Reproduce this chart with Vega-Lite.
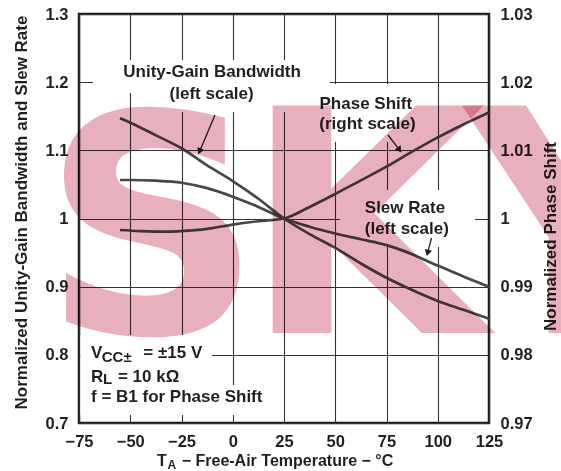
{
  "$schema": "https://vega.github.io/schema/vega-lite/v6.json",
  "width": 410,
  "height": 409,
  "autosize": {"type": "none"},
  "padding": {"left": 79, "top": 14, "right": 72, "bottom": 48},
  "background": "white",
  "config": {
    "view": {"stroke": "#1a1a1a", "strokeWidth": 2.5},
    "font": "Liberation Sans",
    "text": {"font": "Liberation Sans"}
  },
  "datasets": {
    "curves": [
      {"series": "UGB", "t": -55, "v": 1.147},
      {"series": "UGB", "t": -50, "v": 1.1405},
      {"series": "UGB", "t": -37.5, "v": 1.122},
      {"series": "UGB", "t": -25, "v": 1.103},
      {"series": "UGB", "t": -12.5, "v": 1.078},
      {"series": "UGB", "t": 0, "v": 1.055},
      {"series": "UGB", "t": 12.5, "v": 1.029},
      {"series": "UGB", "t": 25, "v": 1.0},
      {"series": "UGB", "t": 37.5, "v": 0.977},
      {"series": "UGB", "t": 50, "v": 0.957},
      {"series": "UGB", "t": 62.5, "v": 0.934},
      {"series": "UGB", "t": 75, "v": 0.913},
      {"series": "UGB", "t": 87.5, "v": 0.895},
      {"series": "UGB", "t": 100, "v": 0.879},
      {"series": "UGB", "t": 112.5, "v": 0.866},
      {"series": "UGB", "t": 125, "v": 0.853},
      {"series": "SR", "t": -55, "v": 1.0565},
      {"series": "SR", "t": -50, "v": 1.0565},
      {"series": "SR", "t": -37.5, "v": 1.0555},
      {"series": "SR", "t": -25, "v": 1.0525},
      {"series": "SR", "t": -12.5, "v": 1.0445},
      {"series": "SR", "t": 0, "v": 1.032},
      {"series": "SR", "t": 12.5, "v": 1.017},
      {"series": "SR", "t": 25, "v": 1.0},
      {"series": "SR", "t": 37.5, "v": 0.988},
      {"series": "SR", "t": 50, "v": 0.978},
      {"series": "SR", "t": 62.5, "v": 0.9695},
      {"series": "SR", "t": 75, "v": 0.961},
      {"series": "SR", "t": 82, "v": 0.954},
      {"series": "SR", "t": 100, "v": 0.931},
      {"series": "SR", "t": 112.5, "v": 0.915},
      {"series": "SR", "t": 125, "v": 0.9}
    ],
    "phase": [
      {"t": -55, "v": 0.99831},
      {"t": -45, "v": 0.99815},
      {"t": -33, "v": 0.99806},
      {"t": -20, "v": 0.99825},
      {"t": -10, "v": 0.9986},
      {"t": 0, "v": 0.9991},
      {"t": 12.5, "v": 0.9996},
      {"t": 25, "v": 1.0},
      {"t": 37.5, "v": 1.0017},
      {"t": 50, "v": 1.0036},
      {"t": 62.5, "v": 1.0056},
      {"t": 75, "v": 1.0076},
      {"t": 87.5, "v": 1.0098},
      {"t": 100, "v": 1.0119},
      {"t": 112.5, "v": 1.0138},
      {"t": 125, "v": 1.01555}
    ],
    "boxes": [
      {"t1": -68.2, "t2": 47.4, "v1": 1.2325, "v2": 1.1841},
      {"t1": -40.4, "t2": 32.8, "v1": 1.1841, "v2": 1.1562},
      {"t1": 40.1, "t2": 92.3, "v1": 1.1973, "v2": 1.1122},
      {"t1": 52.3, "t2": 118.2, "v1": 1.0418, "v2": 0.9802},
      {"t1": 59.6, "t2": 107.0, "v1": 0.9802, "v2": 0.9582},
      {"t1": -74.3, "t2": -10.1, "v1": 0.8291, "v2": 0.7558},
      {"t1": -74.3, "t2": 15.7, "v1": 0.7558, "v2": 0.7117}
    ],
    "notes": [
      {"text": "Unity-Gain Bandwidth", "t": -10.1, "v": 1.2142},
      {"text": "(left scale)", "t": -10.3, "v": 1.1826},
      {"text": "Phase Shift", "t": 64.9, "v": 1.168},
      {"text": "(right scale)", "t": 65.7, "v": 1.1386},
      {"text": "Slew Rate", "t": 84, "v": 1.0161},
      {"text": "(left scale)", "t": 84.9, "v": 0.9846}
    ],
    "conds": [
      {"text": "V", "t": -69.15, "v": 0.7949, "size": 17},
      {"text": "CC±", "t": -63.9, "v": 0.7899, "size": 15},
      {"text": "= ±15 V", "t": -43.6, "v": 0.7949, "size": 17},
      {"text": "R", "t": -69.15, "v": 0.7606, "size": 17},
      {"text": "L", "t": -63.3, "v": 0.7572, "size": 15},
      {"text": "= 10 kΩ", "t": -56.0, "v": 0.7606, "size": 17},
      {"text": "f = B1 for Phase Shift", "t": -69.15, "v": 0.7313, "size": 17},
      {"text": "T", "t": -36.95, "v": 0.6365, "size": 16},
      {"text": "A", "t": -31.8, "v": 0.6325, "size": 12},
      {"text": "− Free-Air Temperature − °C", "t": -24.9, "v": 0.6365, "size": 16}
    ],
    "arrows": [
      {"t1": -8.66, "v1": 1.1518, "t2": -15.98, "v2": 1.0999, "angle": 203},
      {"t1": 75.73, "v1": 1.1225, "t2": 81.05, "v2": 1.1018, "angle": 142},
      {"t1": 96.95, "v1": 0.9714, "t2": 95.2, "v2": 0.951, "angle": 194}
    ],
    "wm": [
      {"ch": "S", "t": -93, "v": 0.832, "size": 305},
      {"ch": "K", "t": 5.5, "v": 0.832, "size": 312},
      {"ch": "Y", "t": 113.3, "v": 0.832, "size": 312}
    ]
  },
  "layer": [
    {
      "data": {"name": "boxes"},
      "mark": {"type": "rect", "fill": "white"},
      "encoding": {
        "x": {
          "field": "t1", "type": "quantitative",
          "scale": {"domain": [-75, 125], "nice": false, "zero": false},
          "axis": {
            "values": [-75, -50, -25, 0, 25, 50, 75, 100, 125],
            "format": "d",
            "title": null,
            "grid": true,
            "gridColor": "#333333",
            "gridWidth": 1.1,
            "domain": false,
            "ticks": false,
            "tickSize": 0,
            "labelPadding": 10,
            "labelFlush": false,
            "labelOverlap": false,
            "labelFont": "Liberation Sans",
            "labelFontSize": 16.5,
            "labelFontWeight": "bold",
            "labelColor": "#231f20"
          }
        },
        "x2": {"field": "t2"},
        "y": {
          "field": "v1", "type": "quantitative",
          "scale": {"domain": [0.7, 1.3], "nice": false, "zero": false},
          "axis": {
            "values": [0.7, 0.8, 0.9, 1, 1.1, 1.2, 1.3],
            "format": ".2~f",
            "title": "Normalized Unity-Gain Bandwidth and Slew Rate",
            "grid": true,
            "gridColor": "#333333",
            "gridWidth": 1.1,
            "domain": false,
            "ticks": false,
            "tickSize": 0,
            "labelPadding": 11,
            "labelFont": "Liberation Sans",
            "labelFontSize": 16.5,
            "labelFontWeight": "bold",
            "labelColor": "#231f20",
            "titleFont": "Liberation Sans",
            "titleFontSize": 17,
            "titleFontWeight": "bold",
            "titleColor": "#231f20",
            "titleAngle": 270,
            "titleAlign": "center",
            "titleBaseline": "alphabetic",
            "titleX": -52.3,
            "titleY": 198
          }
        },
        "y2": {"field": "v2"}
      }
    },
    {
      "data": {"name": "curves"},
      "mark": {"type": "line", "interpolate": "monotone", "strokeWidth": 2.7, "color": "#474747"},
      "encoding": {
        "x": {"field": "t", "type": "quantitative", "title": null, "scale": {"domain": [-75, 125], "nice": false, "zero": false}},
        "y": {"field": "v", "type": "quantitative", "scale": {"domain": [0.7, 1.3], "nice": false, "zero": false}, "axis": null},
        "detail": {"field": "series"}
      }
    },
    {
      "data": {"name": "arrows"},
      "mark": {"type": "rule", "strokeWidth": 1.3, "color": "#231f20"},
      "encoding": {
        "x": {"field": "t1", "type": "quantitative", "title": null, "scale": {"domain": [-75, 125], "nice": false, "zero": false}},
        "y": {"field": "v1", "type": "quantitative", "scale": {"domain": [0.7, 1.3], "nice": false, "zero": false}, "axis": null},
        "x2": {"field": "t2"},
        "y2": {"field": "v2"}
      }
    },
    {
      "data": {"name": "arrows"},
      "mark": {"type": "point", "shape": "triangle", "filled": true, "size": 55, "color": "#231f20", "opacity": 1},
      "encoding": {
        "x": {"field": "t2", "type": "quantitative", "title": null, "scale": {"domain": [-75, 125], "nice": false, "zero": false}},
        "y": {"field": "v2", "type": "quantitative", "scale": {"domain": [0.7, 1.3], "nice": false, "zero": false}, "axis": null},
        "angle": {"field": "angle", "type": "quantitative", "scale": null}
      }
    },
    {
      "data": {"name": "notes"},
      "mark": {"type": "text", "align": "center", "baseline": "middle", "fontSize": 17, "fontWeight": "bold", "color": "#231f20", "font": "Liberation Sans"},
      "encoding": {
        "x": {"field": "t", "type": "quantitative", "title": null, "scale": {"domain": [-75, 125], "nice": false, "zero": false}},
        "y": {"field": "v", "type": "quantitative", "scale": {"domain": [0.7, 1.3], "nice": false, "zero": false}, "axis": null},
        "text": {"field": "text"}
      }
    },
    {
      "data": {"name": "conds"},
      "mark": {"type": "text", "align": "left", "baseline": "alphabetic", "fontWeight": "bold", "color": "#231f20", "font": "Liberation Sans"},
      "encoding": {
        "x": {"field": "t", "type": "quantitative", "title": null, "scale": {"domain": [-75, 125], "nice": false, "zero": false}},
        "y": {"field": "v", "type": "quantitative", "scale": {"domain": [0.7, 1.3], "nice": false, "zero": false}, "axis": null},
        "text": {"field": "text"},
        "size": {"field": "size", "type": "quantitative", "scale": null}
      }
    },
    {
      "data": {"name": "phase"},
      "mark": {"type": "line", "interpolate": "monotone", "strokeWidth": 2.7, "color": "#474747"},
      "encoding": {
        "x": {"field": "t", "type": "quantitative", "title": null, "scale": {"domain": [-75, 125], "nice": false, "zero": false}},
        "y": {
          "field": "v", "type": "quantitative",
          "scale": {"domain": [0.97, 1.03], "nice": false, "zero": false},
          "axis": {
            "orient": "right",
            "values": [0.97, 0.98, 0.99, 1, 1.01, 1.02, 1.03],
            "format": ".2~f",
            "title": "Normalized Phase Shift",
            "grid": false,
            "domain": false,
            "ticks": false,
            "tickSize": 0,
            "labelPadding": 11,
            "labelFont": "Liberation Sans",
            "labelFontSize": 16.5,
            "labelFontWeight": "bold",
            "labelColor": "#231f20",
            "titleFont": "Liberation Sans",
            "titleFontSize": 17,
            "titleFontWeight": "bold",
            "titleColor": "#231f20",
            "titleAngle": 270,
            "titleAlign": "center",
            "titleBaseline": "alphabetic",
            "titleX": 66,
            "titleY": 222
          }
        }
      }
    },
    {
      "data": {"name": "wm"},
      "mark": {"type": "text", "align": "left", "baseline": "alphabetic", "font": "DejaVu Sans", "fontWeight": "bold", "color": "#e8b0bc", "blend": "multiply"},
      "encoding": {
        "x": {"field": "t", "type": "quantitative", "title": null, "scale": {"domain": [-75, 125], "nice": false, "zero": false}},
        "y": {"field": "v", "type": "quantitative", "scale": {"domain": [0.7, 1.3], "nice": false, "zero": false}, "axis": null},
        "text": {"field": "ch"},
        "size": {"field": "size", "type": "quantitative", "scale": null}
      }
    }
  ],
  "resolve": {"scale": {"y": "independent"}}
}
